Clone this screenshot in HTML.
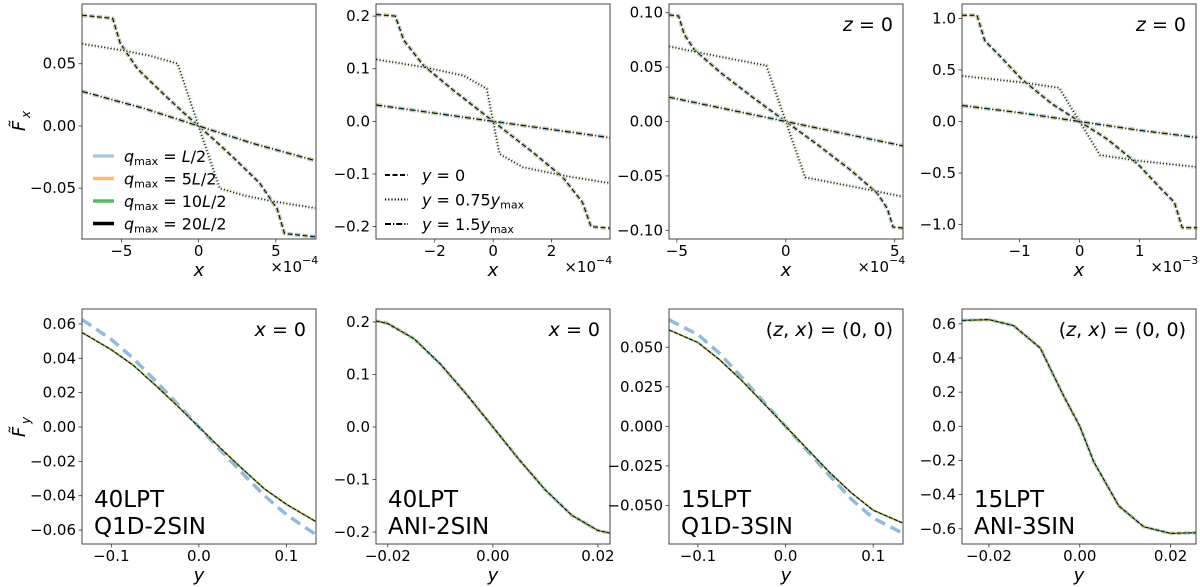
<!DOCTYPE html>
<html><head><meta charset="utf-8"><style>
html,body{margin:0;padding:0;background:#fff;}
svg{display:block;font-family:"DejaVu Sans","Liberation Sans",sans-serif;}
</style></head><body>
<svg id="fig" width="1200" height="587" viewBox="0 0 1200 587" xmlns="http://www.w3.org/2000/svg"></svg>
<script>
// ---- data (top row: x in units of the panel multiplier) ----
const p1DashX=[-7.55,-5.56,-5.08,-3.95,-2.26,-1.0,0,1.0,2.26,3.95,5.08,5.56,7.55];
const p1DashY=[0.089,0.0864,0.0665,0.0458,0.0255,0.011,0,-0.011,-0.0255,-0.0458,-0.0665,-0.0864,-0.089];
const p1DotX=[-7.55,-4.8,-3,-1.36,0,1.36,3,4.8,7.55];
const p1DotY=[0.066,0.0605,0.056,0.05,0,-0.05,-0.056,-0.0605,-0.066];
const p1DdX=[-7.55,-3.5,0,3.5,7.55];
const p1DdY=[0.0278,0.014,0,-0.014,-0.0278];

const p2DashX=[-4,-3.35,-3.06,-2.38,-1.36,0,1.36,2.38,3.06,3.35,4];
const p2DashY=[0.203,0.2,0.154,0.106,0.059,0,-0.059,-0.106,-0.154,-0.2,-0.203];
const p2DotX=[-4,-2.38,-1.01,-0.22,0,0.22,1.01,2.38,4];
const p2DotY=[0.1175,0.103,0.087,0.062,0,-0.062,-0.087,-0.103,-0.1175];
const p2DdX=[-4,0,4];
const p2DdY=[0.031,0,-0.031];

const p3DashX=[-5.36,-4.92,-4.66,-4.2,-3,-1.5,0,1.5,3,4.2,4.66,4.92,5.36];
const p3DashY=[0.098,0.097,0.08,0.066,0.045,0.022,0,-0.022,-0.045,-0.066,-0.08,-0.097,-0.098];
const p3DotX=[-5.36,-3.26,-0.89,0,0.89,3.26,5.36];
const p3DotY=[0.069,0.0605,0.0514,0,-0.0514,-0.0605,-0.069];
const p3DdX=[-5.36,0,5.36];
const p3DdY=[0.0223,0,-0.0223];

const p4DashX=[-1.96,-1.71,-1.58,-1.36,-0.97,-0.46,0,0.46,0.97,1.36,1.58,1.71,1.96];
const p4DashY=[1.03,1.03,0.784,0.655,0.413,0.171,0,-0.171,-0.413,-0.655,-0.784,-1.03,-1.03];
const p4DotX=[-1.96,-0.97,-0.34,0,0.34,0.97,1.96];
const p4DotY=[0.442,0.38,0.326,0,-0.326,-0.38,-0.442];
const p4DdX=[-1.96,-1,0,1,1.96];
const p4DdY=[0.155,0.085,0,-0.085,-0.155];

// ---- bottom row ----
const p5X=[-0.1335,-0.12,-0.1,-0.075,-0.05,-0.025,0,0.025,0.05,0.075,0.1,0.12,0.1335];
const p5Black=[0.055,0.051,0.045,0.036,0.0245,0.0125,0,-0.0125,-0.0245,-0.036,-0.045,-0.051,-0.055];
const p5Blue=[0.0625,0.058,0.051,0.040,0.027,0.0137,0,-0.0137,-0.027,-0.040,-0.051,-0.058,-0.0625];
const p6X=[-0.0223,-0.02,-0.015,-0.01,-0.005,0,0.005,0.01,0.015,0.02,0.0223];
const p6Y=[0.202,0.197,0.168,0.12,0.062,0,-0.062,-0.12,-0.168,-0.197,-0.202];
const p7X=[-0.133,-0.1,-0.075,-0.05,-0.025,0,0.025,0.05,0.075,0.1,0.133];
const p7Black=[0.061,0.053,0.042,0.029,0.0145,0,-0.0145,-0.029,-0.042,-0.053,-0.061];
const p7Blue=[0.0674,0.058,0.046,0.031,0.0155,0,-0.0155,-0.031,-0.046,-0.058,-0.0674];
const p8X=[-0.0259,-0.02,-0.0146,-0.0087,-0.0036,0,0.0031,0.0086,0.0141,0.02,0.0257];
const p8Y=[0.62,0.625,0.59,0.458,0.181,0,-0.208,-0.466,-0.588,-0.627,-0.623];

// ---- ticks ----
const p1XTicks=[-5,0,5], p1YTicks=[-0.05,0,0.05], p1YLabels=["−0.05","0.00","0.05"];
const p2XTicks=[-2,0,2], p2YTicks=[-0.2,-0.1,0,0.1,0.2], p2YLabels=["−0.2","−0.1","0.0","0.1","0.2"];
const p3XTicks=[-5,0,5], p3YTicks=[-0.1,-0.05,0,0.05,0.1], p3YLabels=["−0.10","−0.05","0.00","0.05","0.10"];
const p4XTicks=[-1,0,1], p4YTicks=[-1,-0.5,0,0.5,1], p4YLabels=["−1.0","−0.5","0.0","0.5","1.0"];
const p5XTicks=[-0.1,0,0.1], p5XLabels=["−0.1","0.0","0.1"];
const p5YTicks=[-0.06,-0.04,-0.02,0,0.02,0.04,0.06], p5YLabels=["−0.06","−0.04","−0.02","0.00","0.02","0.04","0.06"];
const p6XTicks=[-0.02,0,0.02], p6XLabels=["−0.02","0.00","0.02"];
const p6YTicks=[-0.2,-0.1,0,0.1,0.2], p6YLabels=["−0.2","−0.1","0.0","0.1","0.2"];
const p7YTicks=[-0.05,-0.025,0,0.025,0.05], p7YLabels=["−0.050","−0.025","0.000","0.025","0.050"];
const p8YTicks=[-0.6,-0.4,-0.2,0,0.2,0.4,0.6], p8YLabels=["−0.6","−0.4","−0.2","0.0","0.2","0.4","0.6"];

const NS="http://www.w3.org/2000/svg";
const svg=document.getElementById('fig');
function mk(tag,attrs,parent){const e=document.createElementNS(NS,tag);for(const k in attrs)e.setAttribute(k,attrs[k]);(parent||svg).appendChild(e);return e;}
function txt(s,attrs,parent){const e=mk('text',attrs,parent);e.textContent=s;return e;}

const LEFTS=[82,376,669,962], W=234;
const BLUE='#a9cbe6', ORANGE='#ffb77a', GREEN='#5cb85c';
const DASH='5,2.5', DOT='1.2,2', DD='6,2,1.2,2';

function panel(name,col,top,xlim,ylim){
  const x0=LEFTS[col], y0=top, h=235;
  const g=mk('g',{});
  
  
  const sx=v=>x0+(v-xlim[0])/(xlim[1]-xlim[0])*W;
  const sy=v=>y0+h-(v-ylim[0])/(ylim[1]-ylim[0])*h;
  return {g,x0,y0,h,sx,sy};
}
function line(P,xs,ys,color,width,dash,name){
  const pts=xs.map((x,i)=>P.sx(x).toFixed(1)+','+P.sy(ys[i]).toFixed(1)).join(' ');
  const a={points:pts,fill:'none',stroke:color,'stroke-width':width,'stroke-linejoin':'round'};
  if(dash)a['stroke-dasharray']=dash;
  const e=mk('polyline',a,P.g);
  
  
}
function group4(P,xs,ys,dash,name){
  line(P,xs,ys,BLUE,4,dash,name+'-q1');
  line(P,xs,ys,ORANGE,2.4,dash,name+'-q5');
  line(P,xs,ys,GREEN,1.5,dash,name+'-q10');
  line(P,xs,ys,'#000',0.9,dash,name+'-q20');
}
function axes(P,xt,xl,yt,yl){
  const f=mk('rect',{x:P.x0,y:P.y0,width:W,height:P.h,fill:'none',stroke:'#444','stroke-width':1},P.g);
  
  
  const by=P.y0+P.h;
  xt.forEach((v,i)=>{
    const x=P.sx(v);
    mk('line',{x1:x,y1:by,x2:x,y2:by+3.5,stroke:'#333','stroke-width':0.8},P.g);
    const t=txt(xl[i],{x:x,y:by+17,'font-size':15,'text-anchor':'middle',fill:'#000'},P.g);
    
    
  });
  yt.forEach((v,i)=>{
    const y=P.sy(v);
    mk('line',{x1:P.x0,y1:y,x2:P.x0-3.5,y2:y,stroke:'#333','stroke-width':0.8},P.g);
    const t=txt(yl[i],{x:P.x0-6,y:y+5,'font-size':15,'text-anchor':'end',fill:'#000'},P.g);
    
    
  });
}
function xlabel(P,s,mult){
  const t=txt(s,{x:P.x0+W/2,y:P.y0+P.h+37,'font-size':18,'font-style':'italic','text-anchor':'middle'},P.g);
  
  
  if(mult){
    const m=txt('×10',{x:P.x0+W-14,y:P.y0+P.h+33,'font-size':15,'text-anchor':'end'},P.g);
    
    
    txt(mult,{x:P.x0+W-14,y:P.y0+P.h+25,'font-size':11,'text-anchor':'start'},P.g);
  }
}
function note(P,s,x,y,size,anchor){
  const t=txt(s,{x:x,y:y,'font-size':size,'text-anchor':anchor||'end'},P.g);
  
  
  return t;
}
function noteHTML(P,html,x,y){
  const t=mk('text',{x:x,y:y,'font-size':19,'text-anchor':'end'},P.g);
  t.innerHTML=html;
  
  
}
const fmtInt=v=>(v<0?'−':'')+Math.abs(v);

// ---- top row ----
const T=4;
let P=panel('panel-40lpt-q1d-fx',0,T,[-7.55,7.6],[-0.0908,0.098]);
group4(P,p1DashX,p1DashY,DASH,'curve-y0');group4(P,p1DotX,p1DotY,DOT,'curve-y075');group4(P,p1DdX,p1DdY,DD,'curve-y15');
axes(P,p1XTicks,p1XTicks.map(fmtInt),p1YTicks,p1YLabels);xlabel(P,'x','−4');
const legQ=[['L/2',BLUE],['5L/2',ORANGE],['10L/2',GREEN],['20L/2','#000']];
legQ.forEach((e,i)=>{
  const y=156+i*22.5;
  const g=mk('g',{},P.g);
  
  
  mk('line',{x1:93,y1:y,x2:114,y2:y,stroke:e[1],'stroke-width':3.5},g);
  const t=mk('text',{x:124,y:y+6,'font-size':16},g);
  t.innerHTML='<tspan font-style="italic">q</tspan><tspan font-size="11" dy="3">max</tspan><tspan dy="-3"> = </tspan><tspan>'+e[0].replace('L','<tspan font-style="italic">L</tspan>')+'</tspan>';
});
const yl1=txt('F̃',{x:0,y:0,'font-size':18,'font-style':'italic',transform:'translate(25,126) rotate(-90)','text-anchor':'middle'});


txt('x',{x:0,y:0,'font-size':12,'font-style':'italic',transform:'translate(30,118) rotate(-90)'});

P=panel('panel-40lpt-ani-fx',1,T,[-4.01,4.0],[-0.2236,0.223]);
group4(P,p2DashX,p2DashY,DASH,'curve-y0');group4(P,p2DotX,p2DotY,DOT,'curve-y075');group4(P,p2DdX,p2DdY,DD,'curve-y15');
axes(P,p2XTicks,p2XTicks.map(fmtInt),p2YTicks,p2YLabels);xlabel(P,'x','−4');
[[DASH,'0'],[DOT,'0.75'],[DD,'1.5']].forEach((e,i)=>{
  const y=175+i*24.5;
  const g=mk('g',{},P.g);
  
  
  mk('line',{x1:385,y1:y,x2:408,y2:y,stroke:'#000','stroke-width':2,'stroke-dasharray':e[0]},g);
  const t=mk('text',{x:422,y:y+6,'font-size':16},g);
  if(e[1]==='0') t.innerHTML='<tspan font-style="italic">y</tspan> = 0';
  else t.innerHTML='<tspan font-style="italic">y</tspan> = '+e[1]+'<tspan font-style="italic">y</tspan><tspan font-size="11" dy="3">max</tspan>';
});

P=panel('panel-15lpt-q1d-fx',2,T,[-5.36,5.38],[-0.108,0.108]);
group4(P,p3DashX,p3DashY,DASH,'curve-y0');group4(P,p3DotX,p3DotY,DOT,'curve-y075');group4(P,p3DdX,p3DdY,DD,'curve-y15');
axes(P,p3XTicks,p3XTicks.map(fmtInt),p3YTicks,p3YLabels);xlabel(P,'x','−4');
noteHTML(P,'<tspan font-style="italic">z</tspan> = 0',P.x0+W-10,P.y0+27);

P=panel('panel-15lpt-ani-fx',3,T,[-1.96,1.94],[-1.14,1.14]);
group4(P,p4DashX,p4DashY,DASH,'curve-y0');group4(P,p4DotX,p4DotY,DOT,'curve-y075');group4(P,p4DdX,p4DdY,DD,'curve-y15');
axes(P,p4XTicks,p4XTicks.map(fmtInt),p4YTicks,p4YLabels);xlabel(P,'x','−3');
noteHTML(P,'<tspan font-style="italic">z</tspan> = 0',P.x0+W-10,P.y0+27);

// ---- bottom row ----
const B=309;
function bottomCurves(P,xs,black,blue,blueDashed){
  if(blueDashed) line(P,xs,blue,'#8fbbdf',3.5,'11,6','curve-qmax-L2');
  else line(P,xs,blue,BLUE,3.5,DASH,'curve-qmax-L2');
  line(P,xs,black,ORANGE,2.2,null,'curve-qmax-5L2');
  line(P,xs,black,GREEN,1.5,null,'curve-qmax-10L2');
  line(P,xs,black,'#000',0.9,'4,1.5','curve-qmax-20L2');
}
function label2(P,a,b){
  note(P,a,P.x0+12,P.y0+198,23,'start');
  note(P,b,P.x0+12,P.y0+225,23,'start');
}
P=panel('panel-40lpt-q1d-fy',0,B,[-0.1335,0.1338],[-0.0681,0.0687]);
bottomCurves(P,p5X,p5Black,p5Blue,true);
axes(P,p5XTicks,p5XLabels,p5YTicks,p5YLabels);xlabel(P,'y',null);
noteHTML(P,'<tspan font-style="italic">x</tspan> = 0',P.x0+W-10,P.y0+27);label2(P,'40LPT','Q1D-2SIN');
const yl2=txt('F̃',{x:0,y:0,'font-size':18,'font-style':'italic',transform:'translate(25,432) rotate(-90)','text-anchor':'middle'});


txt('y',{x:0,y:0,'font-size':12,'font-style':'italic',transform:'translate(30,424) rotate(-90)'});

P=panel('panel-40lpt-ani-fy',1,B,[-0.02225,0.0223],[-0.2228,0.2247]);
bottomCurves(P,p6X,p6Y,p6Y,false);
axes(P,p6XTicks,p6XLabels,p6YTicks,p6YLabels);xlabel(P,'y',null);
noteHTML(P,'<tspan font-style="italic">x</tspan> = 0',P.x0+W-10,P.y0+27);label2(P,'40LPT','ANI-2SIN');

const zx='(<tspan font-style="italic">z</tspan>, <tspan font-style="italic">x</tspan>) = (0, 0)';
P=panel('panel-15lpt-q1d-fy',2,B,[-0.133,0.134],[-0.0744,0.0742]);
bottomCurves(P,p7X,p7Black,p7Blue,true);
axes(P,p5XTicks,p5XLabels,p7YTicks,p7YLabels);xlabel(P,'y',null);
noteHTML(P,zx,P.x0+W-10,P.y0+27);label2(P,'15LPT','Q1D-3SIN');

P=panel('panel-15lpt-ani-fy',3,B,[-0.02594,0.0256],[-0.689,0.687]);
bottomCurves(P,p8X,p8Y,p8Y,false);
axes(P,p6XTicks,p6XLabels,p8YTicks,p8YLabels);xlabel(P,'y',null);
noteHTML(P,zx,P.x0+W-10,P.y0+27);label2(P,'15LPT','ANI-3SIN');
</script>
</body></html>
